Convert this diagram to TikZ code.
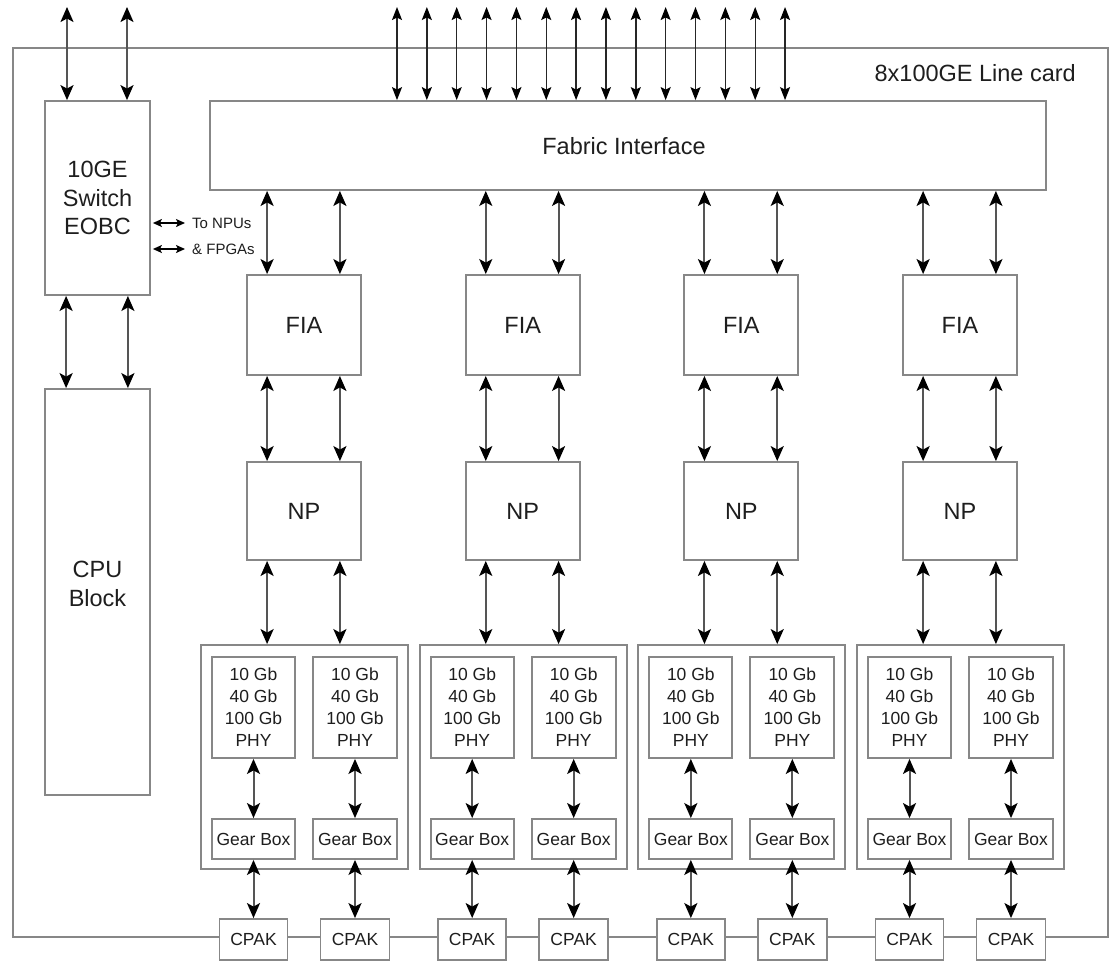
\documentclass[tikz,border=0pt]{standalone}
\usepackage{fontspec}
\setmainfont{Liberation Sans}
\usetikzlibrary{arrows.meta}
\definecolor{boxgray}{RGB}{135,135,135}
\definecolor{shaft}{RGB}{85,85,85}
\definecolor{txt}{RGB}{30,30,30}
\tikzset{
  blk/.style={draw=boxgray, line width=1.8pt, fill=white, inner sep=0pt, text=txt},
  bigtxt/.style={font=\fontsize{23.5}{28.5}\selectfont, text=txt},
  phytxt/.style={font=\fontsize{17.5}{22}\selectfont},
  geartxt/.style={font=\fontsize{17.5}{21}\selectfont},
  smalltxt/.style={font=\fontsize{15}{18}\selectfont, text=txt, inner sep=0pt},
  bi/.style={draw=shaft, line width=2pt,
    {Stealth[length=15pt,width=13pt,inset=3.5pt,color=black]}-{Stealth[length=15pt,width=13pt,inset=3.5pt,color=black]}},
  thinbi/.style={draw=black!85, line width=1.4pt,
    {Stealth[length=13pt,width=10pt,inset=2.5pt,color=black]}-{Stealth[length=13pt,width=10pt,inset=2.5pt,color=black]}},
  smallbi/.style={draw=black, line width=1.5pt,
    {Stealth[length=9pt,width=8pt,inset=2pt]}-{Stealth[length=9pt,width=8pt,inset=2pt]}},
  framestyle/.style={draw=boxgray, line width=1.8pt}
}
\begin{document}
\begin{tikzpicture}[x=1pt,y=-1pt]
\useasboundingbox (0,0) rectangle (1117,962);
% outer card frame
\draw[framestyle] (13,48) rectangle (1108,937);
\node[bigtxt, anchor=east, inner sep=0pt] (lbl) at (1076,73) {8x100GE Line card};

% fabric interface
\node[blk, minimum width=836pt, minimum height=89pt] (fabric) at (628,145.5) {};
\node[bigtxt, inner sep=0pt] (fabriclbl) at (624,146) {Fabric Interface};

% EOBC and CPU
\node[blk, bigtxt, align=center, minimum width=105pt, minimum height=194pt] (eobc) at (97.5,198) {10GE\\Switch\\EOBC};
\node[blk, minimum width=105pt, minimum height=406pt] (cpu) at (97.5,592) {};
\node[bigtxt, align=center, inner sep=0pt] (cpulbl) at (97.5,584) {CPU\\Block};

\coordinate (eo1) at (67,7);
\coordinate (eo2) at (127,7);
\draw[bi] (eo1) -- (eo1 |- eobc.north);
\draw[bi] (eo2) -- (eo2 |- eobc.north);
\draw[bi] ([xshift=22pt]eobc.south west) -- ([xshift=22pt]cpu.north west);
\draw[bi] ([xshift=-23pt]eobc.south east) -- ([xshift=-23pt]cpu.north east);

\node[smalltxt, anchor=west] (tonpu) at (192,223) {To NPUs};
\node[smalltxt, anchor=west] (fpga) at (192,249) {\& FPGAs};
\draw[smallbi] ([xshift=2pt]eobc.east |- tonpu.west) -- ([xshift=-7pt]tonpu.west);
\draw[smallbi] ([xshift=2pt]eobc.east |- fpga.west) -- ([xshift=-7pt]fpga.west);

% top fabric arrows
\foreach \j in {0,...,13} {
  \coordinate (t\j) at ({397+29.85*\j},7);
  \draw[thinbi] (t\j) -- (t\j |- fabric.north);
}

% four slices
\foreach \i in {0,1,2,3} {
  \pgfmathsetmacro\dx{218.67*\i}
  \node[blk, bigtxt, minimum width=114pt, minimum height=100pt] (fia\i) at ({304+\dx},325) {FIA};
  \node[blk, bigtxt, minimum width=114pt, minimum height=98pt] (np\i) at ({304+\dx},511) {NP};
  \node[blk, minimum width=207pt, minimum height=224pt] (grp\i) at ({304.5+\dx},757) {};
  \node[blk, phytxt, align=center, minimum width=83pt, minimum height=101pt] (phyA\i) at ({253.5+\dx},707.5) {10 Gb\\40 Gb\\100 Gb\\PHY};
  \node[blk, phytxt, align=center, minimum width=84pt, minimum height=101pt] (phyB\i) at ({355+\dx},707.5) {10 Gb\\40 Gb\\100 Gb\\PHY};
  \node[blk, geartxt, minimum width=83pt, minimum height=40pt] (gearA\i) at ({253.5+\dx},839) {Gear Box};
  \node[blk, geartxt, minimum width=84pt, minimum height=40pt] (gearB\i) at ({355+\dx},839) {Gear Box};
  \node[blk, geartxt, minimum width=68pt, minimum height=41pt] (cpakA\i) at ({253.5+\dx},939.5) {CPAK};
  \node[blk, geartxt, minimum width=69pt, minimum height=41pt] (cpakB\i) at ({355+\dx},939.5) {CPAK};

  \draw[bi] ([xshift=21pt]fia\i.north west |- fabric.south) -- ([xshift=21pt]fia\i.north west);
  \draw[bi] ([xshift=-22pt]fia\i.north east |- fabric.south) -- ([xshift=-22pt]fia\i.north east);
  \draw[bi] ([xshift=21pt]fia\i.south west) -- ([xshift=21pt]np\i.north west);
  \draw[bi] ([xshift=-22pt]fia\i.south east) -- ([xshift=-22pt]np\i.north east);
  \draw[bi] ([xshift=21pt]np\i.south west) -- ([xshift=21pt]np\i.south west |- grp\i.north);
  \draw[bi] ([xshift=-22pt]np\i.south east) -- ([xshift=-22pt]np\i.south east |- grp\i.north);
  \draw[bi] (phyA\i.south) -- (gearA\i.north);
  \draw[bi] (phyB\i.south) -- (gearB\i.north);
  \draw[bi] (gearA\i.south) -- (cpakA\i.north);
  \draw[bi] (gearB\i.south) -- (cpakB\i.north);
}
\end{tikzpicture}
\end{document}
